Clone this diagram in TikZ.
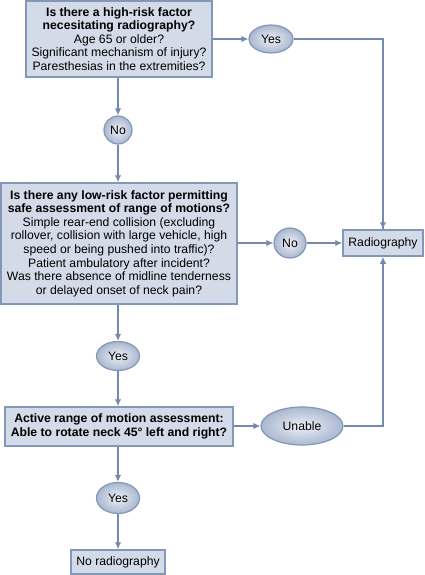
\documentclass[tikz,border=0pt]{standalone}
\usepackage{fontspec}
\setmainfont{Liberation Sans}
\usetikzlibrary{shapes.geometric,arrows.meta}
\definecolor{boxfill}{HTML}{D4DBE8}
\definecolor{boxline}{HTML}{8397B8}
\definecolor{conn}{HTML}{7489B0}
\definecolor{ellin}{HTML}{EEF1F7}
\definecolor{ellout}{HTML}{A9B7CF}
\begin{document}
\begin{tikzpicture}[x=1pt,y=-1pt,
  txt/.style={font=\fontsize{12.2}{13.6}\selectfont, align=center, inner sep=0pt},
  qbox/.style={txt, draw=boxline, fill=boxfill, line width=1.5pt, rectangle},
  oval/.style={txt, ellipse, draw=boxline, line width=1.2pt, inner color=ellin, outer color=ellout},
  arr/.style={draw=conn, line width=2pt, -{Latex[length=7pt,width=6.5pt]}},
  ln/.style={draw=conn, line width=2pt}
]
\useasboundingbox (0,0) rectangle (424,575);
\node[qbox, minimum width=186pt, minimum height=76pt] (b1) at (119,39)
  {\textbf{Is there a high-risk factor}\\\textbf{necesitating radiography?}\\Age 65 or older?\\Significant mechanism of injury?\\Paresthesias in the extremities?};
\node[oval, minimum width=44pt, minimum height=28pt] (yes1) at (271,39) {Yes};
\node[oval, minimum width=28pt, minimum height=28pt] (no1) at (118,130) {No};
\node[qbox, minimum width=236pt, minimum height=121pt] (b2) at (119,243.5)
  {\textbf{Is there any low-risk factor permitting}\\\textbf{safe assessment of range of motions?}\\Simple rear-end collision (excluding\\rollover, collision with large vehicle, high\\speed or being pushed into traffic)?\\Patient ambulatory after incident?\\Was there absence of midline tenderness\\or delayed onset of neck pain?};
\node[oval, minimum width=32pt, minimum height=30pt] (no2) at (290,243) {No};
\node[qbox, minimum width=80pt, minimum height=26pt] (rad) at (383,243) {Radiography};
\node[oval, minimum width=43pt, minimum height=29pt] (yes2) at (118,356) {Yes};
\node[qbox, minimum width=228pt, minimum height=39pt] (b3) at (119,426.5)
  {\textbf{Active range of motion assessment:}\\\textbf{Able to rotate neck 45° left and right?}};
\node[oval, minimum width=82pt, minimum height=38pt] (unable) at (302,426) {Unable};
\node[oval, minimum width=43pt, minimum height=31pt] (yes3) at (118,498) {Yes};
\node[qbox, minimum width=94pt, minimum height=24pt] (norad) at (118,562) {No radiography};

\draw[arr] (b1.east |- yes1) -- (yes1);
\draw[ln] (yes1.east) -| (rad.north);
\draw[arr] (rad.north |- yes1) -- (rad.north);
\draw[arr] (no1 |- b1.south) -- (no1);
\draw[arr] (no1) -- (no1 |- b2.north);
\draw[arr] (b2.east |- no2) -- (no2);
\draw[arr] (no2) -- (rad);
\draw[arr] (yes2 |- b2.south) -- (yes2);
\draw[arr] (yes2) -- (yes2 |- b3.north);
\draw[arr] (b3.east |- unable) -- (unable);
\draw[arr] (unable.east) -| (rad.south);
\draw[arr] (yes3 |- b3.south) -- (yes3);
\draw[arr] (yes3) -- (yes3 |- norad.north);
\end{tikzpicture}
\end{document}
